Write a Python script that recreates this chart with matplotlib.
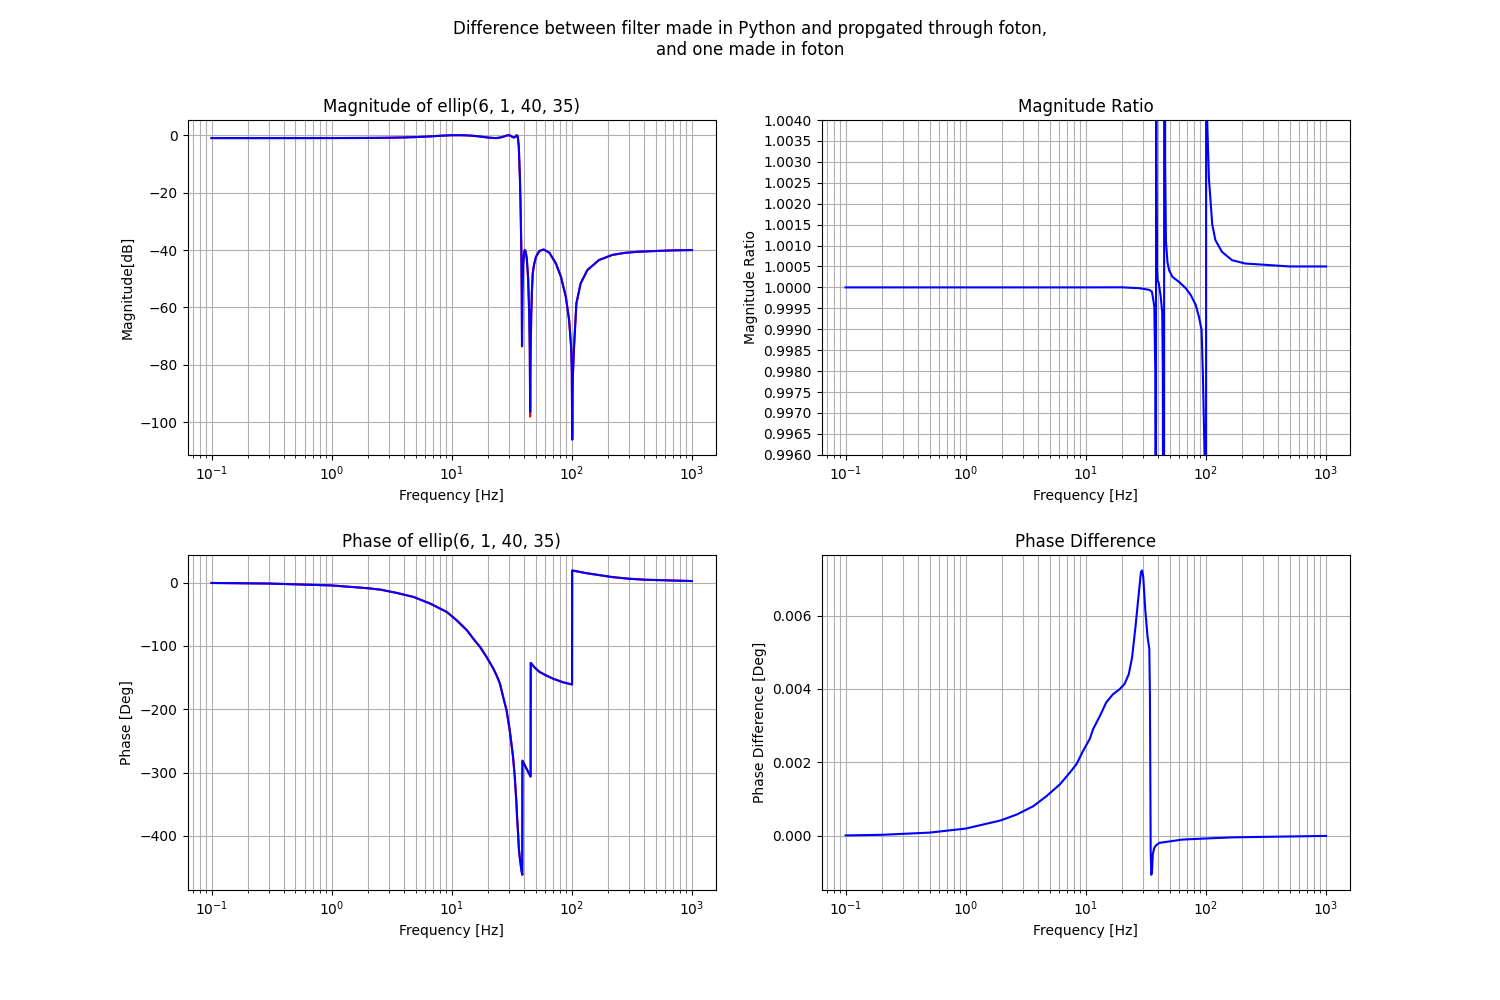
import numpy as np
import matplotlib
matplotlib.use('Agg')
import matplotlib.pyplot as plt
from matplotlib.ticker import FormatStrFormatter

# magnitude [dB] of ellip(6, 1, 40, 35)
mag_freq = [0.1, 0.3, 1, 2, 3, 4, 5, 6, 7, 8, 9, 10, 11, 12, 13, 14.5, 16, 18,
            20, 22, 23.5, 25, 27, 28.5, 30, 31, 32, 33, 34, 34.8, 35.5, 36.2,
            37.0, 37.5, 38.0, 38.3, 38.5, 38.8, 39.3, 40.0, 40.6, 41.3, 42.2,
            43.3, 44.2, 44.7, 45.0, 45.4, 46.0, 46.6, 47.3, 48.5, 50.4, 53.7,
            58.3, 65, 73.8, 81.2, 89.2, 95, 98.7, 100, 100.8, 101.8, 104.4,
            109.2, 118.5, 134.6, 168, 217, 273, 350, 518, 700, 1000]
mag_python_db = [-1.0, -1.0, -0.99, -0.95, -0.88, -0.78, -0.65, -0.5, -0.35,
                 -0.2, -0.08, -0.01, 0.0, 0.0, -0.05, -0.15, -0.3, -0.55, -0.8,
                 -0.95, -1.0, -0.85, -0.5, -0.15, 0.0, -0.2, -0.6, -0.8, -0.5,
                 0.0, -0.5, -4.0, -15.0, -26.0, -40.0, -55.0, -73.5, -55.0,
                 -45.0, -41.0, -40.0, -40.5, -43.0, -50.0, -62.0, -75.0, -98.0,
                 -75.0, -62.0, -54.0, -48.1, -45.0, -42.3, -40.3, -39.8, -40.9,
                 -44.7, -49.3, -56.3, -64.4, -73.7, -82.0, -106.0, -85.0, -73.7,
                 -58.6, -51.6, -47.0, -43.5, -41.7, -41.0, -40.6, -40.3, -40.1,
                 -40.0]
mag_foton_db = list(mag_python_db)
mag_foton_db[mag_freq.index(45.0)] = -96.4

# phase [deg]
ph_freq = [0.1, 0.3, 1, 2, 2.56, 3.52, 4.83, 6.64, 9.12, 11.0, 13.4, 15.1, 17.2,
           19.5, 22.2, 23.6, 25.2, 26.8, 28.6, 30.4, 31.4, 32.4, 33.5, 34.6,
           35.0, 35.7, 36.3, 36.8, 38.0, 38.7, 38.8, 45.4, 45.5, 49, 53.8,
           61.2, 69.4, 84, 100.5, 100.7, 115, 131, 217, 299, 410, 1000]
ph_python = [-0.4, -1.3, -4.3, -8.7, -11.0, -16.3, -22.6, -33.1, -46.3, -59.4,
             -75.2, -88.3, -101.4, -117.2, -135.6, -146.1, -159.3, -180.3,
             -201.3, -232.9, -253.9, -274.9, -306.4, -348.5, -369.5, -395.8,
             -422.0, -432.6, -453.6, -461.5, -281.2, -306.4, -126.7, -134.0,
             -140.9, -146.6, -151.4, -157.2, -160.8, 19.4, 17.3, 15.2, 8.9,
             6.3, 4.7, 2.6]
ph_foton = list(ph_python)

# ratio |H_foton| / |H_python|
ratio_freq = [0.1, 1, 10, 20, 28, 31, 33.8, 35.5, 36.5, 37.2, 37.9, 38.1, 38.3,
              38.6, 38.8, 39.2, 39.6, 40.5, 42.0, 43.3, 43.8, 44.2, 44.6, 45.2,
              45.8, 46.5, 47.9, 49.4, 52.7, 59.8, 68, 74.7, 82.3, 87.5, 92.1,
              94.5, 97.5, 99.5, 100, 100.8, 101.5, 102.5, 106, 113, 120, 136,
              165, 213, 274, 500, 1000]
ratio_vals = [1.0, 1.0, 1.0, 1.000002, 0.99998, 0.99996, 0.99994, 0.9999,
              0.9997, 0.99954, 0.998, 0.993, 0.95, 1.05, 1.003, 1.0004,
              1.00017, 1.0001, 0.9998, 0.9994, 0.998, 0.99, 0.95, 1.05, 1.003,
              1.0011, 1.0006, 1.00041, 1.00025, 1.00013, 0.99998, 0.99982,
              0.99958, 0.9993, 0.99898, 0.99787, 0.996, 0.98, 0.9, 1.1, 1.01,
              1.004, 1.0026, 1.0015, 1.00113, 1.00085, 1.00065, 1.00057,
              1.00055, 1.0005, 1.0005]
ratio_ticks = [0.996, 0.9965, 0.997, 0.9975, 0.998, 0.9985, 0.999, 0.9995, 1.0,
               1.0005, 1.001, 1.0015, 1.002, 1.0025, 1.003, 1.0035, 1.004]

# phase difference [deg]
pd_freq = [0.1, 0.2, 0.5, 1, 1.95, 2.67, 3.67, 4.73, 6.1, 7.38, 8.38, 9.5,
           10.8, 11.5, 13.1, 14.8, 16.8, 19.1, 21.0, 22.8, 24.3, 25.9, 27.6,
           28.8, 29.4, 30.1, 31.3, 32.7, 33.8, 34.2, 34.7, 35.1, 35.6, 36.1,
           37.1, 38.4, 40.9, 63.7, 100, 165, 400, 1000]
pd_vals = [0.000003, 0.00002, 0.00008, 0.00019, 0.000411, 0.000575, 0.000804,
           0.00108, 0.0014, 0.00172, 0.00195, 0.00231, 0.00264, 0.0029,
           0.00326, 0.00363, 0.00385, 0.00399, 0.00413, 0.0044, 0.00486,
           0.00568, 0.00659, 0.00719, 0.00723, 0.00705, 0.00614, 0.00541,
           0.00509, 0.00385, -0.00043, -0.00107, -0.00098, -0.00052, -0.00034,
           -0.00027, -0.0002, -0.00011, -0.00008, -0.00005, -0.00003, -0.00001]

fig, axes = plt.subplots(2, 2, figsize=(15, 10), dpi=100)
plt.subplots_adjust(hspace=0.3, wspace=0.2)
fig.suptitle('Difference between filter made in Python and propgated through foton,\nand one made in foton')

ax = axes[0, 0]
ax.semilogx(mag_freq, mag_python_db, 'r', lw=1.5)
ax.semilogx(mag_freq, mag_foton_db, 'b', lw=1.5)
ax.set_title('Magnitude of ellip(6, 1, 40, 35)')
ax.set_xlabel('Frequency [Hz]')
ax.set_ylabel('Magnitude[dB]')

ax = axes[0, 1]
ax.semilogx(ratio_freq, ratio_vals, 'b', lw=1.5)
ax.set_title('Magnitude Ratio')
ax.set_xlabel('Frequency [Hz]')
ax.set_ylabel('Magnitude Ratio')
ax.set_xlim(10**-1.2, 10**3.2)
ax.set_ylim(0.996, 1.004)
ax.set_yticks(ratio_ticks)
ax.yaxis.set_major_formatter(FormatStrFormatter('%.4f'))

ax = axes[1, 0]
ax.semilogx(ph_freq, ph_python, 'r', lw=1.5)
ax.semilogx(ph_freq, ph_foton, 'b', lw=1.5)
ax.set_title('Phase of ellip(6, 1, 40, 35)')
ax.set_xlabel('Frequency [Hz]')
ax.set_ylabel('Phase [Deg]')

ax = axes[1, 1]
ax.semilogx(pd_freq, pd_vals, 'b', lw=1.5)
ax.set_title('Phase Difference')
ax.set_xlabel('Frequency [Hz]')
ax.set_ylabel('Phase Difference [Deg]')

for ax in axes.flatten():
    ax.grid(True, which='both', color='#b0b0b0', lw=0.8)

fig.savefig('out.png')
